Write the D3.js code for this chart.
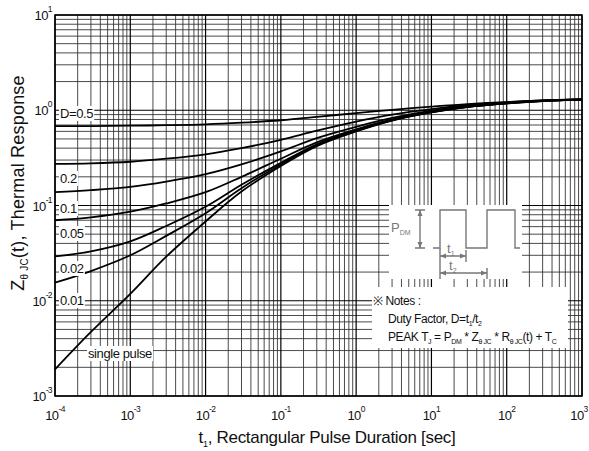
<!doctype html>
<html lang="en">
<head>
<meta charset="utf-8">
<script src="https://d3js.org/d3.v7.min.js"></script>
<style>
  body { margin: 0; background: #fff; }
  svg text { font-family: "Liberation Sans", Arial, sans-serif; fill: #111; }
</style>
</head>
<body>
<svg width="589" height="451"></svg>
<script>
// pulse durations [sec]
var times = [1e-4, 3e-4, 1e-3, 3e-3, 1e-2, 3e-2, 1e-1, 3e-1, 1, 3, 10, 30, 100, 300, 1000];

// thermal response curves, one per duty factor
var dutyLabels = ["D=0.5", "0.2", "0.1", "0.05", "0.02", "0.01", "single pulse"];
var zD05   = [0.68, 0.682, 0.688, 0.697, 0.712, 0.74, 0.785, 0.85, 0.935, 1.01, 1.09, 1.16, 1.22, 1.27, 1.30];
var zD02   = [0.273, 0.277, 0.288, 0.31, 0.345, 0.4, 0.49, 0.61, 0.76, 0.9, 1.03, 1.13, 1.21, 1.27, 1.30];
var zD01   = [0.138, 0.145, 0.157, 0.178, 0.213, 0.27, 0.37, 0.51, 0.67, 0.83, 0.99, 1.11, 1.2, 1.26, 1.30];
var zD005  = [0.07, 0.075, 0.086, 0.105, 0.138, 0.2, 0.31, 0.46, 0.63, 0.8, 0.97, 1.095, 1.19, 1.255, 1.295];
var zD002  = [0.0292, 0.033, 0.042, 0.061, 0.097, 0.165, 0.28, 0.44, 0.615, 0.79, 0.958, 1.086, 1.184, 1.253, 1.292];
var zD001  = [0.0155, 0.0205, 0.03, 0.048, 0.083, 0.152, 0.27, 0.43, 0.607, 0.785, 0.954, 1.083, 1.182, 1.251, 1.291];
var zSingle = [0.0019, 0.0047, 0.0118, 0.029, 0.068, 0.14, 0.26, 0.42, 0.6, 0.78, 0.95, 1.08, 1.18, 1.25, 1.29];
var series = [zD05, zD02, zD01, zD005, zD002, zD001, zSingle];

// tick exponents
var xExps = [-4, -3, -2, -1, 0, 1, 2, 3];
var yExps = [-3, -2, -1, 0, 1];

var svg = d3.select("svg");
var x = d3.scaleLog().domain([1e-4, 1e3]).range([55, 582]);
var y = d3.scaleLog().domain([1e-3, 10]).range([396, 15]);

// grid
var minorX = [], minorY = [];
for (var e = -4; e < 3; e++) for (var m = 2; m < 10; m++) minorX.push(m * Math.pow(10, e));
for (var e2 = -3; e2 < 1; e2++) for (var m2 = 2; m2 < 10; m2++) minorY.push(m2 * Math.pow(10, e2));

var grid = svg.append("g");
grid.selectAll(".vx").data(minorX).enter().append("line")
  .attr("x1", d => x(d)).attr("x2", d => x(d)).attr("y1", y(10)).attr("y2", y(1e-3))
  .attr("stroke", "#2a2a2a").attr("stroke-width", 0.85);
grid.selectAll(".hy").data(minorY).enter().append("line")
  .attr("y1", d => y(d)).attr("y2", d => y(d)).attr("x1", x(1e-4)).attr("x2", x(1e3))
  .attr("stroke", "#2a2a2a").attr("stroke-width", 0.85);
grid.selectAll(".mx").data(xExps).enter().append("line")
  .attr("x1", d => x(Math.pow(10, d))).attr("x2", d => x(Math.pow(10, d)))
  .attr("y1", y(10)).attr("y2", y(1e-3)).attr("stroke", "#000").attr("stroke-width", 1.2);
grid.selectAll(".my").data(yExps).enter().append("line")
  .attr("y1", d => y(Math.pow(10, d))).attr("y2", d => y(Math.pow(10, d)))
  .attr("x1", x(1e-4)).attr("x2", x(1e3)).attr("stroke", "#000").attr("stroke-width", 1.2);

// white panels of the inset (pulse sketch + notes)
svg.append("rect").attr("x", 389).attr("y", 205).attr("width", 133).attr("height", 74).attr("fill", "#fff");
svg.append("rect").attr("x", 372).attr("y", 287).attr("width", 196).attr("height", 61).attr("fill", "#fff");

// curves
var line = d3.line()
  .x((d, i) => x(times[i]))
  .y(d => y(d))
  .curve(d3.curveCatmullRom.alpha(0.5));
svg.append("g").selectAll("path").data(series).enter().append("path")
  .attr("d", line).attr("fill", "none").attr("stroke", "#000").attr("stroke-width", 1.8);

// curve labels with white boxes
var labelPos = [[60, 118], [60, 183], [60, 213], [60, 238], [60, 273], [60, 305], [88, 358]];
var lg = svg.append("g");
dutyLabels.forEach(function(t, i) {
  var g = lg.append("g");
  var tx = g.append("text").attr("x", labelPos[i][0]).attr("y", labelPos[i][1])
    .attr("font-size", 13).attr("letter-spacing", -0.4).text(t);
  var b = tx.node().getBBox();
  g.insert("rect", "text").attr("x", b.x - 1).attr("y", b.y).attr("width", b.width + 2)
    .attr("height", b.height).attr("fill", "#fff");
});

// frame
svg.append("rect").attr("x", 55).attr("y", 15).attr("width", 527).attr("height", 381)
  .attr("fill", "none").attr("stroke", "#000").attr("stroke-width", 1.5);

// tick labels
var xt = svg.append("g").selectAll("text").data(xExps).enter().append("text")
  .attr("x", d => x(Math.pow(10, d)) - (d === 3 ? 3 : 0)).attr("y", 420).attr("text-anchor", "middle")
  .attr("font-size", 13).attr("letter-spacing", -0.6);
xt.append("tspan").text("10");
xt.append("tspan").attr("dy", -8).attr("font-size", 8.5).text(d => d);

var yt = svg.append("g").selectAll("text").data(yExps).enter().append("text")
  .attr("x", 52).attr("y", d => y(Math.pow(10, d)) + 5).attr("text-anchor", "end")
  .attr("font-size", 13).attr("letter-spacing", -0.6);
yt.append("tspan").text("10");
yt.append("tspan").attr("dy", -8).attr("font-size", 8.5).text(d => d);

// axis titles
var xl = svg.append("text").attr("x", 327).attr("y", 443).attr("text-anchor", "middle")
  .attr("font-size", 17).attr("letter-spacing", -0.3);
xl.append("tspan").text("t");
xl.append("tspan").attr("dy", 4).attr("font-size", 9).text("1");
xl.append("tspan").attr("dy", -4).text(", Rectangular Pulse Duration [sec]");

var yl = svg.append("text").attr("transform", "translate(24,183) rotate(-90)")
  .attr("text-anchor", "middle").attr("font-size", 18).attr("letter-spacing", 0.2);
yl.append("tspan").text("Z");
yl.append("tspan").attr("dy", 4).attr("font-size", 10).text("θ JC");
yl.append("tspan").attr("dy", -4).text("(t),  Thermal Response");

// pulse sketch
var px = 433, py = 248, ph = 38;
var ins = svg.append("g").attr("stroke", "#777").attr("fill", "none").attr("stroke-width", 1.4);
ins.append("path").attr("d",
  "M" + px + "," + py + "h7v" + (-ph) + "h26v" + ph + "h21v" + (-ph) + "h28v" + ph + "h5");
ins.append("path").attr("d", "M415," + (py - ph) + "h10M415," + py + "h10M420," + (py - ph) + "V" + py);
ins.append("path").attr("d", "M440," + py + "V279M466," + (py + 2) + "V262M487,268V279");
ins.append("path").attr("d", "M440,256H466M440,273H487");
var ah = svg.append("g").attr("fill", "#777");
[[420, py - ph, -1], [420, py, 1]].forEach(function(a) {
  ah.append("path").attr("d", "M" + a[0] + "," + a[1] + "l-2.5," + (-6 * a[2]) + "h5z");
});
[[440, 256, -1], [466, 256, 1], [440, 273, -1], [487, 273, 1]].forEach(function(a) {
  ah.append("path").attr("d", "M" + a[0] + "," + a[1] + "l" + (-6 * a[2]) + ",-2.5v5z");
});
var lbl = svg.append("g").attr("font-size", 13);
var pd = lbl.append("text").attr("x", 391).attr("y", 232).style("fill", "#777");
pd.append("tspan").text("P");
pd.append("tspan").attr("dy", 3).attr("font-size", 7).text("DM");
var t1 = lbl.append("text").attr("x", 447).attr("y", 253).style("fill", "#777");
t1.append("tspan").text("t");
t1.append("tspan").attr("dy", 3).attr("font-size", 7).text("1");
var t2 = lbl.append("text").attr("x", 449).attr("y", 270).style("fill", "#777");
t2.append("tspan").text("t");
t2.append("tspan").attr("dy", 3).attr("font-size", 7).text("2");

// notes
var nt = svg.append("g").attr("font-size", 12).attr("letter-spacing", -0.4);
nt.append("text").attr("x", 373).attr("y", 305).text("※ Notes :");
var n2 = nt.append("text").attr("x", 388).attr("y", 323);
n2.append("tspan").text("Duty Factor, D=t");
n2.append("tspan").attr("dy", 3).attr("font-size", 7).text("1");
n2.append("tspan").attr("dy", -3).text("/t");
n2.append("tspan").attr("dy", 3).attr("font-size", 7).text("2");
var n3 = nt.append("text").attr("x", 388).attr("y", 341);
n3.append("tspan").text("PEAK T");
n3.append("tspan").attr("dy", 3).attr("font-size", 7).text("J");
n3.append("tspan").attr("dy", -3).text(" = P");
n3.append("tspan").attr("dy", 3).attr("font-size", 7).text("DM");
n3.append("tspan").attr("dy", -3).text(" * Z");
n3.append("tspan").attr("dy", 3).attr("font-size", 7).text("θ JC");
n3.append("tspan").attr("dy", -3).text(" * R");
n3.append("tspan").attr("dy", 3).attr("font-size", 7).text("θ JC");
n3.append("tspan").attr("dy", -3).text("(t) + T");
n3.append("tspan").attr("dy", 3).attr("font-size", 7).text("C");
</script>
</body>
</html>
